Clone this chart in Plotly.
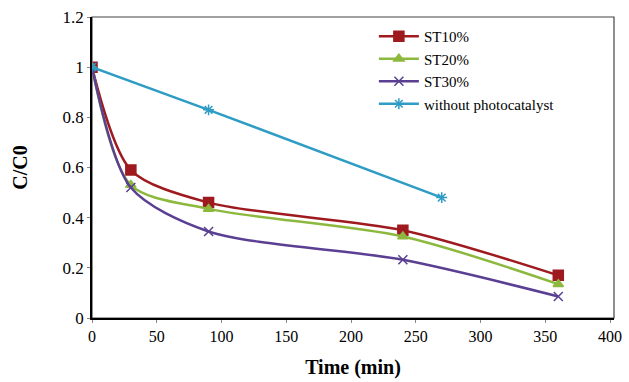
import plotly.graph_objects as go

t_st = [0, 30, 90, 240, 360]
st10 = [1.0, 0.59, 0.46, 0.35, 0.17]
st20 = [1.0, 0.53, 0.435, 0.325, 0.135]
st30 = [1.0, 0.52, 0.345, 0.232, 0.086]
t_wo = [0, 90, 270]
without = [1.0, 0.83, 0.48]

names = ["ST10%", "ST20%", "ST30%", "without photocatalyst"]
colors = ["#9E1A1E", "#8DB83E", "#5A3F92", "#2E9CC4"]
symbols = ["square", "triangle-up", "x-thin-open", "asterisk-open"]
sizes = [10, 9, 9, 9]

fig = go.Figure()
series = [(t_st, st10), (t_st, st20), (t_st, st30), (t_wo, without)]
for (x, y), n, c, s, sz in zip(series, names, colors, symbols, sizes):
    fig.add_trace(go.Scatter(
        x=x, y=y, name=n, mode="lines+markers",
        line=dict(color=c, width=2.5, shape="spline" if n != names[3] else "linear", smoothing=0.8),
        marker=dict(symbol=s, size=sz, color=c, line=dict(color=c, width=1.5)),
    ))

font_family = "Liberation Serif"
fig.update_layout(
    width=629, height=382,
    margin=dict(l=92, r=7, t=17, b=64),
    paper_bgcolor="white", plot_bgcolor="white",
    font=dict(family=font_family, size=16, color="black"),
    showlegend=True,
    legend=dict(x=0.54, y=0.99, xanchor="left", yanchor="top",
                bgcolor="rgba(255,255,255,0)", font=dict(family=font_family, size=15, color="black"),
                tracegroupgap=0, itemwidth=40),
    xaxis=dict(range=[0, 403], tickvals=[0, 50, 100, 150, 200, 250, 300, 350, 400],
               showgrid=False, zeroline=False, showline=True, linecolor="black", linewidth=1.5,
               ticks="outside", ticklen=3, tickcolor="#888", mirror=False,
               ticklabeloverflow="allow",
               title=dict(text="<b>Time (min)</b>", font=dict(family=font_family, size=20), standoff=16),
               tickfont=dict(family=font_family, size=16)),
    yaxis=dict(range=[0, 1.2], tickvals=[0, 0.2, 0.4, 0.6, 0.8, 1.0, 1.2],
               ticktext=["0", "0.2", "0.4", "0.6", "0.8", "1", "1.2"],
               showgrid=False, zeroline=False, showline=True, linecolor="black", linewidth=1.5,
               ticks="outside", ticklen=3, tickcolor="#888",
               title=dict(text="<b>C/C0</b>", font=dict(family=font_family, size=20), standoff=30),
               tickfont=dict(family=font_family, size=17)),
    shapes=[dict(type="rect", xref="paper", yref="paper", x0=0, y0=0, x1=1, y1=1,
                 line=dict(color="#444", width=1.2), fillcolor="rgba(0,0,0,0)", layer="below")],
)

fig.write_html("out.html")
